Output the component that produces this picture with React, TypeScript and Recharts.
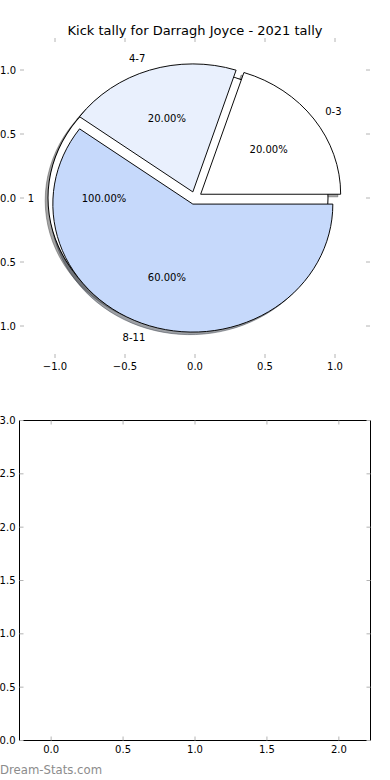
import { PieChart, Pie, Cell, ScatterChart, Scatter, XAxis, YAxis } from "recharts";

// kick tally (main pie)
const tallyNames = ["0-3", "4-7", "8-11"];
const tallyCounts = [1, 1, 3];
const tallyColors = ["#ffffff", "#e9f0fd", "#c6d9fb"];
const tallyExplode = [0.05, 0.05, 0.05];

// the "total" pie drawn underneath
const totalNames = ["1"];
const totalCounts = [1];
const totalColors = ["#ffffff"];
const totalExplode = [0.05];

const pieTicks = [-1, -0.5, 0, 0.5, 1];
const emptyXTicks = [0, 0.5, 1, 1.5, 2];
const emptyYTicks = [0, 0.5, 1, 1.5, 2, 2.5, 3];

const title = "Kick tally for Darragh Joyce - 2021 tally";
const watermark = "Dream-Stats.com";

const FONT = "DejaVu Sans";
const TICK = "#b4b4b4";
const R = 140; // px per unit along x
const K = 128 / 140; // y squeeze (axes are not equal aspect)
const CX = 195;
const CY = 198;
const SHADOW = 0.02;

const fmt = (v: number) => v.toFixed(1).replace("-", "\u2212");

function midAngles(values: number[]) {
  const total = values.reduce((a, b) => a + b, 0);
  let acc = 0;
  return values.map((v) => {
    const m = ((acc + v / 2) / total) * 360;
    acc += v;
    return m;
  });
}

function shadowOf(hex: string) {
  const n = parseInt(hex.slice(1), 16);
  const c = [(n >> 16) & 255, (n >> 8) & 255, n & 255].map((x) => Math.round(x * 0.3));
  return `rgb(${c[0]},${c[1]},${c[2]})`;
}

function offset(mid: number, e: number) {
  const a = (mid * Math.PI) / 180;
  return { dx: e * R * Math.cos(a), dy: -e * R * Math.sin(a) };
}

function pieLabel(explode: number[]) {
  return (p: any) => {
    const a = (p.midAngle * Math.PI) / 180;
    const e = explode[p.index] ?? 0;
    const ox = p.cx + e * R * Math.cos(a);
    const oy = p.cy - e * R * Math.sin(a);
    const nx = ox + 1.1 * R * Math.cos(a);
    const ny = oy - 1.1 * R * Math.sin(a);
    const px = ox + 0.6 * R * Math.cos(a);
    const py = oy - 0.6 * R * Math.sin(a);
    const name = p.payload?.name ?? p.name;
    return (
      <g key={`lbl-${p.index}`}>
        <text
          transform={`translate(${nx} ${ny}) scale(1 ${1 / K})`}
          textAnchor={nx > p.cx ? "start" : "end"}
          dy="0.35em"
          fontSize={10}
          fontFamily={FONT}
          fill="#000"
        >
          {name}
        </text>
        <text
          transform={`translate(${px} ${py}) scale(1 ${1 / K})`}
          textAnchor="middle"
          dy="0.35em"
          fontSize={10}
          fontFamily={FONT}
          fill="#000"
        >
          {(p.percent * 100).toFixed(2)}%
        </text>
      </g>
    );
  };
}

const BottomTick = (gap: number, label: boolean) => (props: any) => {
  const { x, y, payload } = props;
  const edge = y - gap;
  return (
    <g>
      <line x1={x} x2={x} y1={edge} y2={edge - 4} stroke={TICK} />
      {label && (
        <text x={x} y={y} dy="0.8em" textAnchor="middle" fontSize={10} fontFamily={FONT} fill="#000">
          {fmt(payload.value)}
        </text>
      )}
    </g>
  );
};

const TopTick = (props: any) => {
  const { x, y } = props;
  return <line x1={x} x2={x} y1={y} y2={y + 4} stroke={TICK} />;
};

const LeftTick = (gap: number) => (props: any) => {
  const { x, y, payload } = props;
  return (
    <g>
      <line x1={x + gap} x2={x + gap + 4} y1={y} y2={y} stroke={TICK} />
      <text x={x} y={y} dy="0.35em" textAnchor="end" fontSize={10} fontFamily={FONT} fill="#000">
        {fmt(payload.value)}
      </text>
    </g>
  );
};

const RightTick = (props: any) => {
  const { x, y } = props;
  return <line x1={x} x2={x - 4} y1={y} y2={y} stroke={TICK} />;
};

export default function App() {
  const tallyData = tallyNames.map((name, i) => ({ name, value: tallyCounts[i] }));
  const totalData = totalNames.map((name, i) => ({ name, value: totalCounts[i] }));
  const tallyMid = midAngles(tallyCounts);
  const totalMid = midAngles(totalCounts);
  const sh = SHADOW * R;

  const shadowPie = (data: any[], colors: string[], mids: number[], explode: number[], i: number, key: string) => {
    const o = offset(mids[i], explode[i]);
    return (
      <Pie
        key={key}
        data={data}
        dataKey="value"
        nameKey="name"
        cx={CX + o.dx - sh}
        cy={CY + o.dy + sh}
        outerRadius={R}
        isAnimationActive={false}
        label={false}
        labelLine={false}
      >
        {data.map((_, j) => (
          <Cell
            key={j}
            fill={j === i ? shadowOf(colors[j]) : "none"}
            fillOpacity={0.5}
            stroke={j === i ? shadowOf(colors[j]) : "none"}
            strokeOpacity={0.5}
            strokeWidth={1}
          />
        ))}
      </Pie>
    );
  };

  const wedgePie = (data: any[], colors: string[], mids: number[], explode: number[], i: number, key: string) => {
    const o = offset(mids[i], explode[i]);
    return (
      <Pie
        key={key}
        data={data}
        dataKey="value"
        nameKey="name"
        cx={CX + o.dx}
        cy={CY + o.dy}
        outerRadius={R}
        isAnimationActive={false}
        label={false}
        labelLine={false}
      >
        {data.map((_, j) => (
          <Cell
            key={j}
            fill={j === i ? colors[j] : "none"}
            stroke={j === i ? "#000" : "none"}
            strokeWidth={1}
          />
        ))}
      </Pie>
    );
  };

  const totalOff = offset(totalMid[0], totalExplode[0]);

  return (
    <div style={{ position: "absolute", left: 0, top: 0, width: 390, height: 780, background: "#fff", overflow: "hidden" }}>
      <div
        style={{
          position: "absolute",
          left: 0,
          top: 23,
          width: 390,
          textAlign: "center",
          fontFamily: FONT,
          fontSize: 13,
          lineHeight: "15px",
          color: "#000",
          whiteSpace: "nowrap",
        }}
      >
        {title}
      </div>

      {/* axes of the pie subplot */}
      <div style={{ position: "absolute", left: 0, top: 0 }}>
        <ScatterChart width={390} height={380} margin={{ top: 0, right: 0, bottom: 0, left: 0 }}>
          <XAxis
            xAxisId="bottom"
            type="number"
            dataKey="x"
            domain={[-1.25, 1.25]}
            ticks={pieTicks}
            allowDataOverflow
            height={22}
            axisLine={false}
            tickLine={false}
            tickSize={0}
            tickMargin={3.5}
            interval={0}
            tick={BottomTick(3.5, true)}
          />
          <XAxis
            xAxisId="top"
            orientation="top"
            type="number"
            dataKey="x"
            domain={[-1.25, 1.25]}
            ticks={pieTicks}
            allowDataOverflow
            height={38}
            axisLine={false}
            tickLine={false}
            tickSize={0}
            tickMargin={0}
            interval={0}
            tick={TopTick}
          />
          <YAxis
            yAxisId="left"
            type="number"
            dataKey="y"
            domain={[-1.25, 1.25]}
            ticks={pieTicks}
            allowDataOverflow
            width={20}
            axisLine={false}
            tickLine={false}
            tickSize={0}
            tickMargin={4}
            interval={0}
            tick={LeftTick(4)}
          />
          <YAxis
            yAxisId="right"
            orientation="right"
            type="number"
            dataKey="y"
            domain={[-1.25, 1.25]}
            ticks={pieTicks}
            allowDataOverflow
            width={20}
            axisLine={false}
            tickLine={false}
            tickSize={0}
            tickMargin={0}
            interval={0}
            tick={RightTick}
          />
          <Scatter data={[]} xAxisId="bottom" yAxisId="left" isAnimationActive={false} />
        </ScatterChart>
      </div>

      {/* the pies, squeezed vertically like the unequal-aspect axes */}
      <div
        style={{
          position: "absolute",
          left: 0,
          top: 0,
          width: 390,
          height: 400,
          transform: `scaleY(${K})`,
          transformOrigin: `${CX}px ${CY}px`,
        }}
      >
        <PieChart width={390} height={400} margin={{ top: 0, right: 0, bottom: 0, left: 0 }}>
          {totalData.map((_, i) => shadowPie(totalData, totalColors, totalMid, totalExplode, i, `ts${i}`))}
          {tallyData.map((_, i) => shadowPie(tallyData, tallyColors, tallyMid, tallyExplode, i, `s${i}`))}
          <Pie
            data={totalData}
            dataKey="value"
            nameKey="name"
            cx={CX + totalOff.dx}
            cy={CY + totalOff.dy}
            outerRadius={R}
            isAnimationActive={false}
            label={false}
            labelLine={false}
          >
            {totalData.map((_, j) => (
              <Cell key={j} fill={totalColors[j]} stroke="none" />
            ))}
          </Pie>
          <Pie
            data={totalData}
            dataKey="value"
            nameKey="name"
            cx={CX + totalOff.dx}
            cy={CY + totalOff.dy}
            innerRadius={R - 0.5}
            outerRadius={R + 0.5}
            isAnimationActive={false}
            label={false}
            labelLine={false}
          >
            {totalData.map((_, j) => (
              <Cell key={j} fill="#000" stroke="none" />
            ))}
          </Pie>
          {tallyData.map((_, i) => wedgePie(tallyData, tallyColors, tallyMid, tallyExplode, i, `w${i}`))}
          <Pie
            data={totalData}
            dataKey="value"
            nameKey="name"
            cx={CX}
            cy={CY}
            outerRadius={R}
            isAnimationActive={false}
            label={pieLabel(totalExplode)}
            labelLine={false}
          >
            {totalData.map((_, j) => (
              <Cell key={j} fill="none" stroke="none" />
            ))}
          </Pie>
          <Pie
            data={tallyData}
            dataKey="value"
            nameKey="name"
            cx={CX}
            cy={CY}
            outerRadius={R}
            isAnimationActive={false}
            label={pieLabel(tallyExplode)}
            labelLine={false}
          >
            {tallyData.map((_, j) => (
              <Cell key={j} fill="none" stroke="none" />
            ))}
          </Pie>
        </PieChart>
      </div>

      {/* empty second subplot */}
      <div style={{ position: "absolute", left: 0, top: 390 }}>
        <ScatterChart width={390} height={390} margin={{ top: 0, right: 0, bottom: 0, left: 0 }}>
          <XAxis
            xAxisId="bottom"
            type="number"
            dataKey="x"
            domain={[-0.22, 2.22]}
            ticks={emptyXTicks}
            allowDataOverflow
            height={39.5}
            axisLine={{ stroke: "#000", strokeWidth: 1 }}
            tickLine={false}
            tickSize={0}
            tickMargin={4}
            interval={0}
            tick={BottomTick(4, true)}
          />
          <XAxis
            xAxisId="top"
            orientation="top"
            type="number"
            dataKey="x"
            domain={[-0.22, 2.22]}
            ticks={emptyXTicks}
            allowDataOverflow
            height={30.5}
            axisLine={{ stroke: "#000", strokeWidth: 1 }}
            tickLine={false}
            tickSize={0}
            tickMargin={0}
            interval={0}
            tick={TopTick}
          />
          <YAxis
            yAxisId="left"
            type="number"
            dataKey="y"
            domain={[0, 3]}
            ticks={emptyYTicks}
            allowDataOverflow
            width={19.5}
            axisLine={{ stroke: "#000", strokeWidth: 1 }}
            tickLine={false}
            tickSize={0}
            tickMargin={4}
            interval={0}
            tick={LeftTick(4)}
          />
          <YAxis
            yAxisId="right"
            orientation="right"
            type="number"
            dataKey="y"
            domain={[0, 3]}
            ticks={emptyYTicks}
            allowDataOverflow
            width={19.5}
            axisLine={{ stroke: "#000", strokeWidth: 1 }}
            tickLine={false}
            tickSize={0}
            tickMargin={0}
            interval={0}
            tick={RightTick}
          />
          <Scatter data={[]} xAxisId="bottom" yAxisId="left" isAnimationActive={false} />
        </ScatterChart>
      </div>

      <div
        style={{
          position: "absolute",
          left: 0,
          top: 763,
          fontFamily: FONT,
          fontSize: 11.7,
          lineHeight: "14px",
          color: "#8c8c8c",
          whiteSpace: "nowrap",
        }}
      >
        {watermark}
      </div>
    </div>
  );
}
